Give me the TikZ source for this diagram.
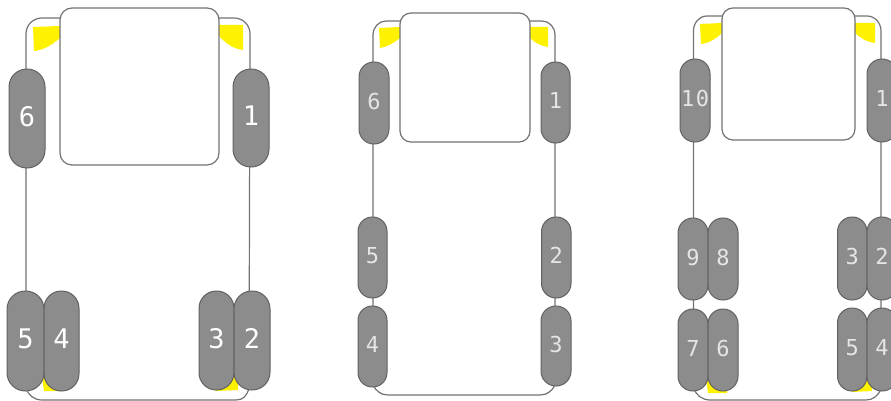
\documentclass[tikz,border=0pt]{standalone}
\usepackage{fontspec}
\setmonofont{DejaVu Sans Mono}
\tikzset{
  x=1pt,y=-1pt,
  frameline/.style={draw=black!55,line width=1.2pt},
  bodybox/.style={frameline,fill=white},
  lamp/.style={fill=yellow,draw=none},
  pillbox/.style={draw=black!62,line width=1pt,fill=black!45,text=white,inner sep=0pt,
    font=\ttfamily,rounded corners=#1},
  pillbox/.default=14pt
}
% \pill{name}{x0}{x1}{y0}{y1}{label}{font size}
\newcommand{\pill}[7]{%
  \pgfmathsetmacro{\pw}{#3-#2}\pgfmathsetmacro{\ph}{#5-#4}%
  \node[pillbox=\pw pt*0.495,minimum width=\pw pt,minimum height=\ph pt,text=#7]
    (#1) at ({(#2+#3)/2},{(#4+#5)/2}) {\raisebox{2pt}[\height][\depth]{#6}};}
\newcommand{\bigd}{\fontsize{27}{27}\selectfont}
\newcommand{\smalld}{\fontsize{22}{22}\selectfont}
\begin{document}
\begin{tikzpicture}
\clip (0,0) rectangle (891,401);
\fill[white] (0,0) rectangle (891,401);

% ---------- left vehicle ----------
\fill[lamp] (33,27) -- (60,26) -- (60,38) .. controls (52,45) and (44,50) .. (34,51) -- cycle;
\fill[lamp] (219,25) -- (243,25) -- (243,50) .. controls (234,49) and (226,44) .. (219,36) -- cycle;
\fill[lamp] (42,378) -- (62,378) -- (62,391) -- (44,391) -- cycle;
\fill[lamp] (215,378) -- (238,376) -- (238,390) -- (215,391) -- cycle;
\draw[frameline] (62,18) -- (42,18) .. controls (33,18) and (26,25) .. (26,34) -- (26,388)
  .. controls (28,395) and (34,400) .. (42,400) -- (236,400) .. controls (243,400) and (247,396) .. (249,388)
  -- (250,34) .. controls (250,25) and (243,18) .. (234,18) -- (218,18);
\draw[bodybox,rounded corners=12pt] (60,8) rectangle (219,165);
\pill{aSix}{9}{45}{69}{168}{\bigd 6}{white}
\pill{aOne}{233}{269}{69}{167}{\bigd 1}{white}
\pill{aFive}{7}{44}{291}{391}{\bigd 5}{white}
\pill{aFour}{44}{79}{291}{391}{\bigd 4}{white}
\pill{aThree}{199}{234}{291}{390}{\bigd 3}{white}
\pill{aTwo}{234}{270}{291}{390}{\bigd 2}{white}

% ---------- middle vehicle ----------
\fill[lamp] (379,28) -- (400,27) -- (400,38) .. controls (394,43) and (387,47) .. (380,48) -- cycle;
\fill[lamp] (530,27) -- (548,27) -- (548,47) .. controls (541,46) and (535,43) .. (530,38) -- cycle;
\draw[frameline] (402,21) -- (386,21) .. controls (379,21) and (373,27) .. (373,35) -- (373,385)
  .. controls (376,391) and (381,395) .. (388,395) -- (540,395) .. controls (547,395) and (552,391) .. (555,385)
  -- (555,35) .. controls (555,27) and (549,21) .. (542,21) -- (528,21);
\draw[bodybox,rounded corners=11pt] (400,13) rectangle (530,142);
\pill{bSix}{359}{389}{62}{144}{\smalld 6}{black!10}
\pill{bOne}{541}{570}{62}{143}{\smalld 1}{black!10}
\pill{bFive}{358}{387}{217}{298}{\smalld 5}{black!10}
\pill{bTwo}{541.5}{571}{217}{298}{\smalld 2}{black!10}
\pill{bFour}{358}{387}{306}{387}{\smalld 4}{black!10}
\pill{bThree}{541}{571}{306}{386}{\smalld 3}{black!10}

% ---------- right vehicle ----------
\fill[lamp] (700,24) -- (722,23) -- (722,33) .. controls (716,39) and (709,43) .. (701,44) -- cycle;
\fill[lamp] (855,23) -- (875,23) -- (875,43) .. controls (867,42) and (860,38) .. (855,33) -- cycle;
\fill[lamp] (706,378) -- (727,378) -- (727,393) -- (708,393) -- cycle;
\fill[lamp] (852,378) -- (872,376) -- (872,391) -- (852,392) -- cycle;
\draw[frameline] (724,16) -- (707,16) .. controls (699,16) and (693.5,23) .. (693.5,31) -- (693.5,388)
  .. controls (696,395) and (702,400) .. (710,400) -- (866,400) .. controls (873,400) and (878,396) .. (881,389)
  -- (881,31) .. controls (881,23) and (875,16) .. (867,16) -- (853,16);
\draw[bodybox,rounded corners=11pt] (722,8) rectangle (855,140);
\pill{cTen}{680}{710}{59}{142}{\smalld 1\kern1.5pt 0}{black!10}
\pill{cOne}{867}{897}{59}{142}{\smalld 1}{black!10}
\pill{cNine}{678}{708}{218}{300}{\smalld 9}{black!10}
\pill{cEight}{708}{738}{218}{300}{\smalld 8}{black!10}
\pill{cSeven}{678}{708}{309}{391}{\smalld 7}{black!10}
\pill{cSix}{708}{738}{309}{391}{\smalld 6}{black!10}
\pill{cThree}{837.5}{867}{217}{300}{\smalld 3}{black!10}
\pill{cTwo}{867}{897}{217}{300}{\smalld 2}{black!10}
\pill{cFive}{837.5}{867}{308}{391}{\smalld 5}{black!10}
\pill{cFour}{867}{897}{308}{391}{\smalld 4}{black!10}
\end{tikzpicture}
\end{document}
